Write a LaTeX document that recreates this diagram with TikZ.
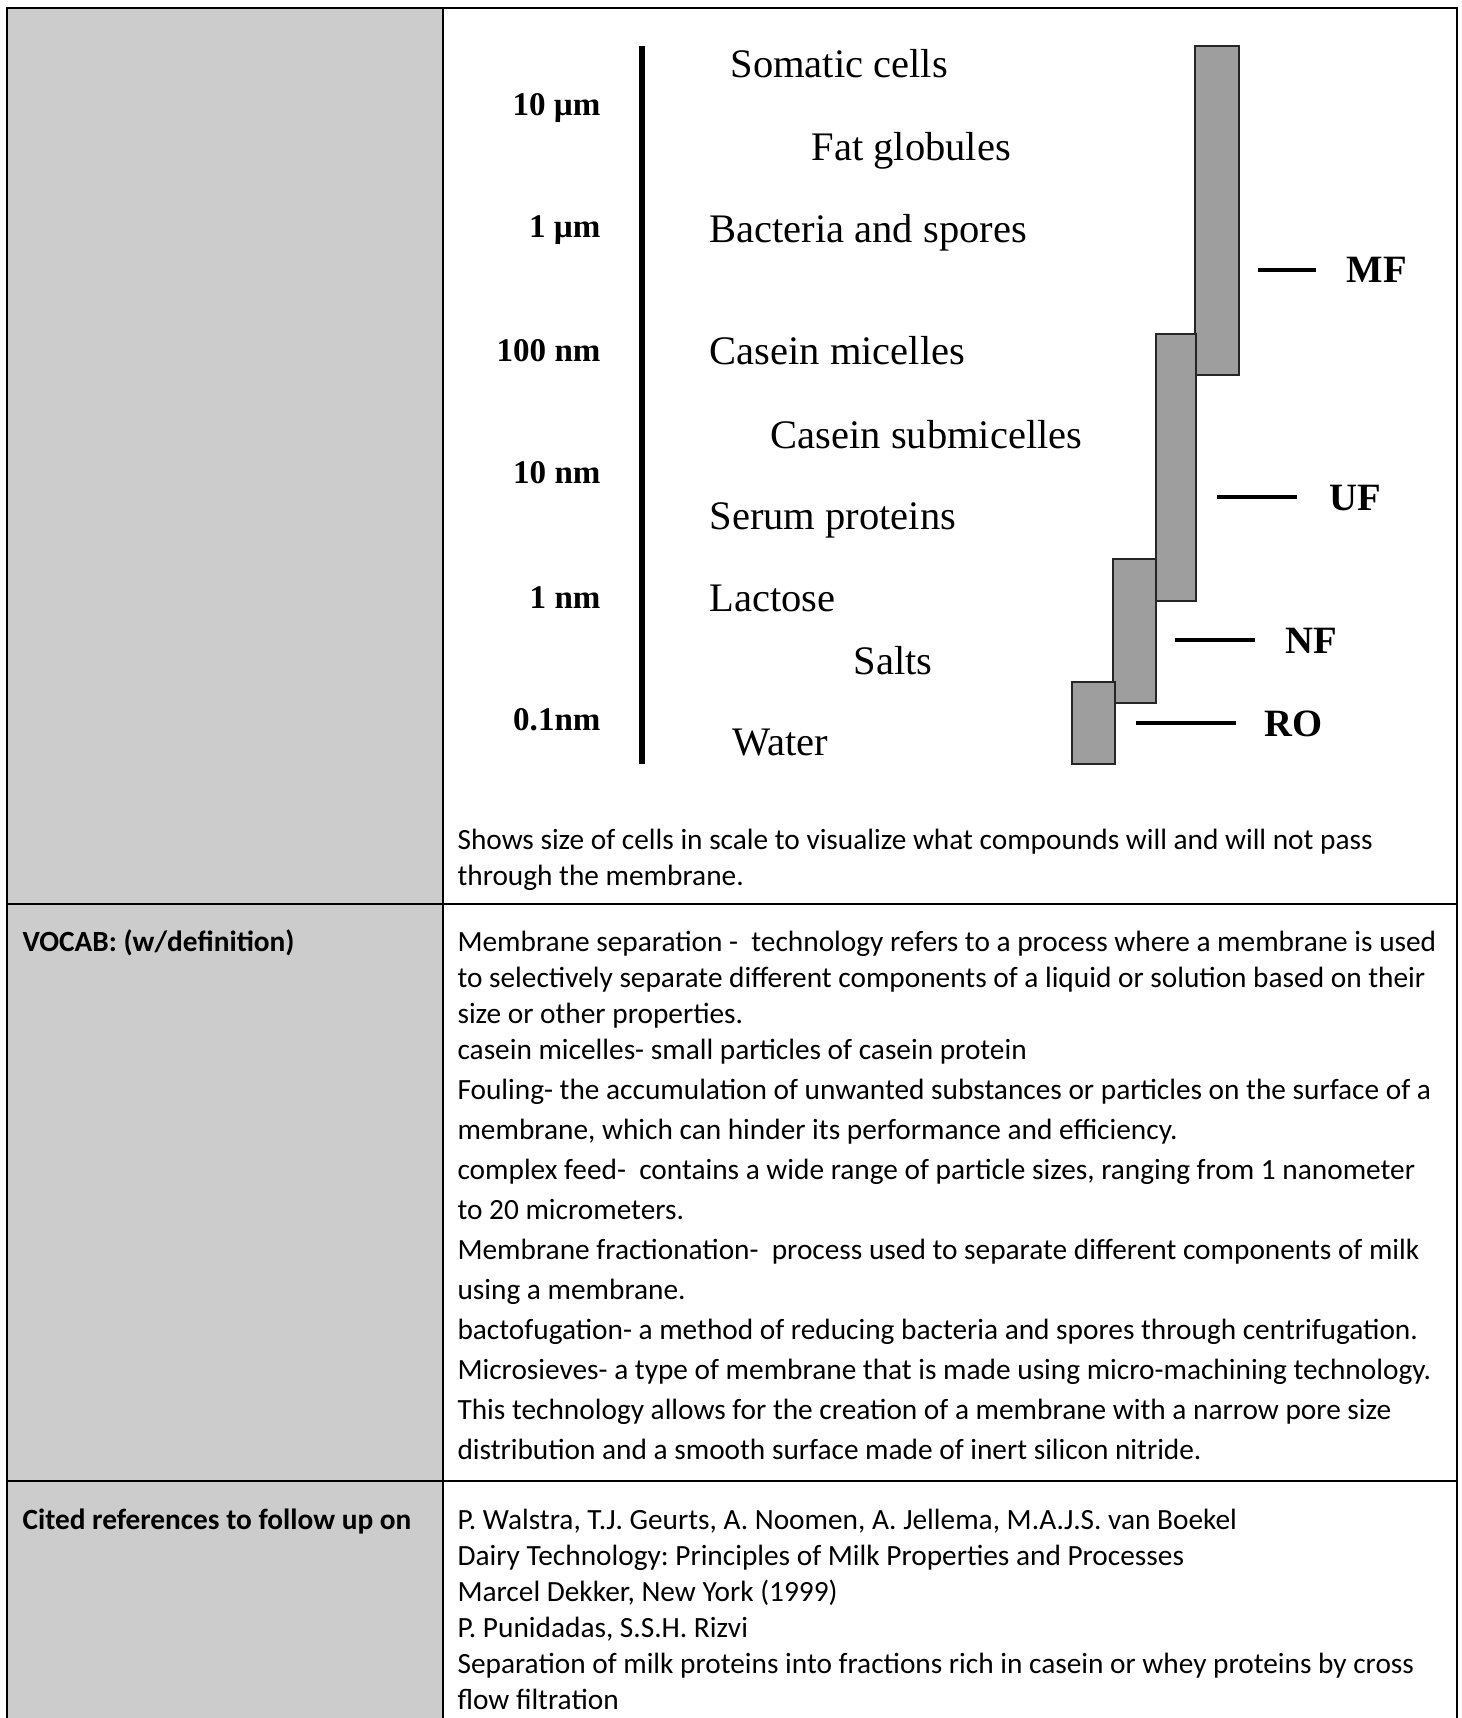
\documentclass[tikz,border=0pt]{standalone}
\usepackage{fontspec}
\setmainfont{Carlito}
\newfontfamily\figfont{Liberation Serif}
\usepackage{tikz}
\definecolor{tablegray}{HTML}{CCCCCC}
\frenchspacing

\begin{document}
\begin{tikzpicture}[x=0.375pt, y=-0.375pt,
	rule/.style={line width=0.9pt},
	cell/.style={anchor=base west, inner sep=0pt, font=\fontsize{11}{13.5}\selectfont},
	head/.style={cell, font=\fontsize{11}{13.5}\selectfont\bfseries},
	sizelbl/.style={anchor=base east, inner sep=0pt, font=\fontsize{12.4}{14}\figfont\bfseries},
	item/.style={anchor=base west, inner sep=0pt, font=\fontsize{15.2}{17}\figfont},
	filt/.style={anchor=base west, inner sep=0pt, font=\fontsize{14.5}{17}\figfont\bfseries},
	poresbox/.style={draw=black!85, line width=0.9pt, fill=black!38},
	tick/.style={line width=1.4pt}]

	\useasboundingbox (0,0) rectangle (1461,1718);

	% table
	\fill[tablegray] (7,8) rectangle (443,1718);
	\draw[rule] (7,1718) -- (7,8) -- (1457,8) -- (1457,1718);
	\draw[rule] (443,8) -- (443,1718);
	\foreach \y in {904,1481}
		\draw[rule] (7,\y) -- (1457,\y);

	% size scale
	\draw[line width=1.9pt] (642,46) -- (642,764);
	\foreach \y/\t [count=\i] in {105/10 µm, 227/1 µm, 351/100 nm, 473/10 nm, 597/1 nm, 719/0.1nm}
		\node[sizelbl] (size\i) at (601,\y+11) {\t};

	\foreach \x/\y/\t [count=\i] in {730/65/Somatic cells, 811/148/Fat globules, 709/230/Bacteria and spores, 709/352/Casein micelles, 770/435/Casein submicelles, 709/516/Serum proteins, 709/598/Lactose, 853/661/Salts, 732/742/Water}
		\node[item] (comp\i) at (\x,\y+13) {\t};

	% filtration ranges
	\draw[poresbox] (1195,46) rectangle (1239,375);
	\draw[poresbox] (1156,334) rectangle (1196,601);
	\draw[poresbox] (1113,559) rectangle (1156,703);
	\draw[poresbox] (1072,682) rectangle (1115,764);

	\foreach \xa/\xb/\xl/\y/\t in {1258/1316/1346/270/MF, 1217/1297/1329/497/UF, 1175/1255/1285/640/NF, 1136/1236/1264/723/RO} {
		\node[filt] (\t) at (\xl,\y+13) {\t};
		\coordinate (\t-a) at (\xa,\y);
		\coordinate (\t-b) at (\xb,\y);
		\draw[tick] (\t-a) -- (\t-b);
	}

	% row texts
	\foreach \t [count=\i] in {Shows size of cells in scale to visualize what compounds will and will not pass, through the membrane.}
		\node[cell] (cap\i) at (457,813+36*\i) {\t};

	\node[head] (vocab) at (22,951) {VOCAB: (w/definition)};
	\foreach \t [count=\i] in {{Membrane separation -\ \ technology refers to a process where a membrane is used}, {to selectively separate different components of a liquid or solution based on their}, {size or other properties.}, {casein micelles- small particles of casein protein}}
		\node[cell] (voc\i) at (457,915+36*\i) {\t};
	\foreach \t [count=\i from 5] in {{Fouling- the accumulation of unwanted substances or particles on the surface of a}, {membrane, which can hinder its performance and efficiency.}, {complex feed-\ \ contains a wide range of particle sizes, ranging from 1 nanometer}, {to 20 micrometers.}, {Membrane fractionation-\ \ process used to separate different components of milk}, {using a membrane.}, {bactofugation- a method of reducing bacteria and spores through centrifugation.}, {Microsieves- a type of membrane that is made using micro-machining technology.}, {This technology allows for the creation of a membrane with a narrow pore size}, {distribution and a smooth surface made of inert silicon nitride.}}
		\node[cell] (voc\i) at (457,899+40*\i) {\t};

	\node[head] (cited) at (22,1529) {Cited references to follow up on};
	\foreach \t [count=\i] in {{P. Walstra, T.J. Geurts, A. Noomen, A. Jellema, M.A.J.S. van Boekel}, {Dairy Technology: Principles of Milk Properties and Processes}, {Marcel Dekker, New York (1999)}, {P. Punidadas, S.S.H. Rizvi}, {Separation of milk proteins into fractions rich in casein or whey proteins by cross}, {flow filtration}}
		\node[cell] (ref\i) at (457,1493+36*\i) {\t};

\end{tikzpicture}
\end{document}
